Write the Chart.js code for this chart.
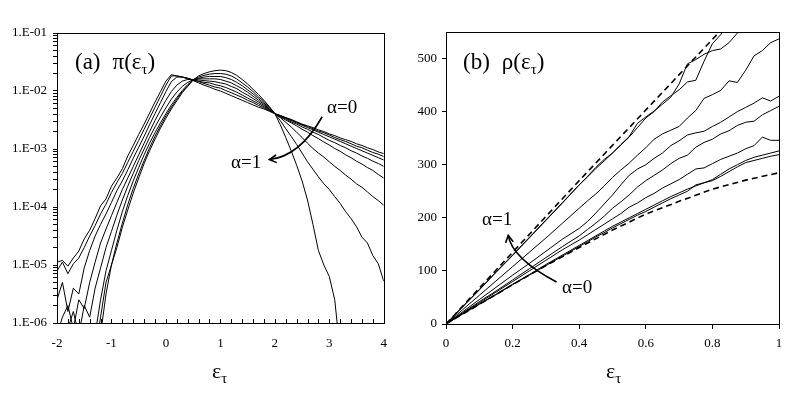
<!DOCTYPE html>
<html><head><meta charset="utf-8">
<script src="https://cdn.jsdelivr.net/npm/chart.js@4/dist/chart.umd.min.js"></script>
<style>
html,body{margin:0;padding:0;background:#fff;}
#wrap{position:relative;width:803px;height:393px;overflow:hidden;font-family:'Liberation Serif','Times New Roman',serif;color:#000;background:#fff;}
canvas{position:absolute;top:0;}
.t{position:absolute;white-space:nowrap;line-height:1;}
.s{position:relative;}
</style></head><body>
<div id="wrap">
<canvas id="ca" width="400" height="393" style="left:0px"></canvas>
<canvas id="cb" width="403" height="393" style="left:400px"></canvas>
<div class="t" style="left:75px;top:50px;font-size:23px">(a)<span style="margin-left:12px">π(ε</span><span class="s" style="font-size:15px;top:5px">τ</span>)</div>
<div class="t" style="left:463px;top:50px;font-size:23px">(b)<span style="margin-left:12px">ρ(ε</span><span class="s" style="font-size:15px;top:5px">τ</span>)</div>
<div class="t" style="left:212px;top:360px;font-size:22px">ε<span class="s" style="font-size:15px;top:5px">τ</span></div>
<div class="t" style="left:606px;top:360px;font-size:22px">ε<span class="s" style="font-size:15px;top:5px">τ</span></div>
<div class="t" style="left:327px;top:97px;font-size:19px">α=0</div>
<div class="t" style="left:231px;top:152px;font-size:19px">α=1</div>
<div class="t" style="left:482px;top:209px;font-size:19px">α=1</div>
<div class="t" style="left:562px;top:277px;font-size:19px">α=0</div>
</div>
<script>
// ---------- Panel (a): pi(eps) ----------
const piX = [-2,-1.9,-1.8,-1.7,-1.6,-1.5,-1.4,-1.3,-1.2,-1.1,-1,-0.9,-0.8,-0.7,-0.6,-0.5,-0.4,-0.3,-0.2,-0.1,0,0.1,0.2,0.3,0.4,0.5,0.6,0.7,0.8,0.9,1,1.1,1.2,1.3,1.4,1.5,1.6,1.7,1.8,1.9,2,2.1,2.2,2.3,2.4,2.5,2.6,2.7,2.8,2.9,3,3.1,3.2,3.3,3.4,3.5,3.6,3.7,3.8,3.9,4];
const pi0 = [1.12e-5,1.20e-5,9.55e-6,1.32e-5,1.74e-5,2.82e-5,3.98e-5,6.31e-5,1.05e-4,1.38e-4,2.29e-4,3.16e-4,4.57e-4,7.59e-4,1.15e-3,1.78e-3,2.69e-3,4.17e-3,6.46e-3,9.77e-3,1.48e-2,1.91e-2,1.82e-2,1.74e-2,1.62e-2,1.51e-2,1.38e-2,1.26e-2,1.17e-2,1.07e-2,1.00e-2,9.12e-3,8.32e-3,7.59e-3,6.92e-3,6.31e-3,5.75e-3,5.25e-3,4.90e-3,4.47e-3,4.07e-3,3.80e-3,3.47e-3,3.24e-3,2.95e-3,2.69e-3,2.51e-3,2.34e-3,2.14e-3,2.00e-3,1.82e-3,1.70e-3,1.55e-3,1.45e-3,1.35e-3,1.23e-3,1.15e-3,1.05e-3,9.77e-4,8.91e-4,8.32e-4];
const pi1 = [7.94e-6,1.12e-5,7.08e-6,1.05e-5,1.32e-5,2.00e-5,3.16e-5,4.79e-5,7.59e-5,1.12e-4,1.78e-4,2.63e-4,3.80e-4,5.89e-4,9.12e-4,1.41e-3,2.19e-3,3.39e-3,5.25e-3,8.13e-3,1.26e-2,1.82e-2,1.82e-2,1.74e-2,1.66e-2,1.55e-2,1.45e-2,1.35e-2,1.26e-2,1.17e-2,1.12e-2,1.02e-2,9.33e-3,8.51e-3,7.76e-3,6.92e-3,6.31e-3,5.62e-3,5.13e-3,4.57e-3,4.07e-3,3.72e-3,3.47e-3,3.16e-3,2.88e-3,2.63e-3,2.45e-3,2.24e-3,2.04e-3,1.91e-3,1.74e-3,1.58e-3,1.45e-3,1.35e-3,1.23e-3,1.12e-3,1.05e-3,9.55e-4,8.71e-4,8.13e-4,7.41e-4];
const pi2 = [2.51e-6,5.01e-6,1.58e-6,3.98e-6,3.16e-6,8.91e-6,1.78e-5,3.16e-5,5.01e-5,7.59e-5,1.20e-4,1.91e-4,2.82e-4,4.37e-4,6.92e-4,1.07e-3,1.66e-3,2.63e-3,4.07e-3,6.31e-3,9.77e-3,1.45e-2,1.74e-2,1.74e-2,1.66e-2,1.55e-2,1.48e-2,1.41e-2,1.38e-2,1.29e-2,1.23e-2,1.15e-2,1.05e-2,9.55e-3,8.51e-3,7.59e-3,6.76e-3,6.03e-3,5.37e-3,4.68e-3,4.07e-3,3.72e-3,3.39e-3,3.09e-3,2.82e-3,2.57e-3,2.34e-3,2.14e-3,1.95e-3,1.78e-3,1.62e-3,1.48e-3,1.35e-3,1.23e-3,1.12e-3,1.02e-3,9.33e-4,8.51e-4,7.76e-4,7.08e-4,6.46e-4];
const pi3 = [6.31e-7,1.26e-6,2.00e-6,7.94e-7,2.51e-6,1.78e-6,5.01e-6,1.12e-5,2.40e-5,4.17e-5,7.08e-5,1.20e-4,2.00e-4,3.16e-4,5.01e-4,7.94e-4,1.26e-3,2.00e-3,3.09e-3,4.68e-3,6.92e-3,9.77e-3,1.26e-2,1.48e-2,1.58e-2,1.58e-2,1.55e-2,1.51e-2,1.48e-2,1.45e-2,1.38e-2,1.32e-2,1.20e-2,1.10e-2,9.55e-3,8.51e-3,7.41e-3,6.46e-3,5.62e-3,4.79e-3,4.07e-3,3.63e-3,3.31e-3,2.95e-3,2.69e-3,2.40e-3,2.19e-3,1.95e-3,1.78e-3,1.58e-3,1.41e-3,1.29e-3,1.15e-3,1.05e-3,9.33e-4,8.51e-4,7.59e-4,6.92e-4,6.17e-4,5.62e-4,5.01e-4];
const pi4 = [5.01e-7,5.01e-7,7.94e-7,1.58e-6,6.31e-7,2.00e-6,1.26e-6,3.98e-6,8.91e-6,2.00e-5,3.80e-5,7.24e-5,1.32e-4,2.29e-4,3.80e-4,6.31e-4,1.00e-3,1.58e-3,2.40e-3,3.55e-3,5.13e-3,7.24e-3,9.55e-3,1.20e-2,1.41e-2,1.55e-2,1.62e-2,1.62e-2,1.62e-2,1.62e-2,1.58e-2,1.48e-2,1.38e-2,1.23e-2,1.10e-2,9.55e-3,8.13e-3,6.92e-3,5.89e-3,4.90e-3,4.07e-3,3.55e-3,3.16e-3,2.82e-3,2.51e-3,2.19e-3,1.95e-3,1.70e-3,1.51e-3,1.32e-3,1.17e-3,1.02e-3,9.12e-4,7.94e-4,7.08e-4,6.17e-4,5.50e-4,4.79e-4,4.27e-4,3.63e-4,3.16e-4];
const pi5 = [3.16e-7,3.16e-7,3.16e-7,3.16e-7,3.16e-7,3.16e-7,3.16e-7,6.31e-7,2.51e-6,7.94e-6,1.78e-5,3.98e-5,8.32e-5,1.58e-4,2.82e-4,4.79e-4,7.94e-4,1.26e-3,1.91e-3,2.82e-3,4.07e-3,5.75e-3,7.76e-3,1.02e-2,1.29e-2,1.55e-2,1.66e-2,1.74e-2,1.78e-2,1.78e-2,1.78e-2,1.70e-2,1.58e-2,1.41e-2,1.23e-2,1.05e-2,8.91e-3,7.41e-3,6.17e-3,5.13e-3,4.07e-3,3.47e-3,2.88e-3,2.40e-3,1.95e-3,1.58e-3,1.26e-3,1.02e-3,8.51e-4,7.24e-4,6.03e-4,5.01e-4,4.27e-4,3.55e-4,3.02e-4,2.51e-4,2.19e-4,1.82e-4,1.51e-4,1.29e-4,1.07e-4];
const pi6 = [3.16e-7,3.16e-7,3.16e-7,3.16e-7,3.16e-7,3.16e-7,3.16e-7,3.16e-7,1.26e-6,5.01e-6,1.00e-5,2.40e-5,5.25e-5,1.10e-4,2.09e-4,3.72e-4,6.31e-4,1.05e-3,1.66e-3,2.51e-3,3.72e-3,5.25e-3,7.24e-3,9.77e-3,1.23e-2,1.55e-2,1.74e-2,1.86e-2,1.95e-2,2.00e-2,2.00e-2,1.95e-2,1.82e-2,1.62e-2,1.38e-2,1.17e-2,9.77e-3,7.94e-3,6.61e-3,5.25e-3,4.07e-3,3.09e-3,2.24e-3,1.66e-3,1.20e-3,8.51e-4,6.03e-4,4.47e-4,3.31e-4,2.51e-4,2.00e-4,1.51e-4,1.15e-4,8.32e-5,6.31e-5,4.57e-5,3.02e-5,2.40e-5,1.45e-5,1.05e-5,5.25e-6];
const pi7 = [null,null,null,null,null,null,null,3.16e-7,6.31e-7,3.16e-6,1.00e-5,2.00e-5,4.47e-5,8.91e-5,1.74e-4,3.16e-4,5.62e-4,9.33e-4,1.48e-3,2.29e-3,3.39e-3,4.90e-3,6.76e-3,9.33e-3,1.20e-2,1.55e-2,1.82e-2,2.00e-2,2.14e-2,2.24e-2,2.29e-2,2.24e-2,2.09e-2,1.86e-2,1.58e-2,1.32e-2,1.07e-2,8.71e-3,6.92e-3,5.37e-3,4.07e-3,2.63e-3,1.58e-3,9.33e-4,5.25e-4,2.82e-4,1.32e-4,5.01e-5,1.78e-5,1.00e-5,6.31e-6,2.51e-6,3.16e-7,null,null,null,null,null,null,null,null];
const piSeries = [pi0, pi1, pi2, pi3, pi4, pi5, pi6, pi7];
const piTickLabels = ['1.E-06','1.E-05','1.E-04','1.E-03','1.E-02','1.E-01'];

// ---------- Panel (b): rho(eps) ----------
const rhoX = [0,0.05,0.1,0.15,0.2,0.25,0.3,0.35,0.4,0.425,0.45,0.475,0.5,0.525,0.55,0.575,0.6,0.625,0.65,0.675,0.7,0.725,0.75,0.775,0.8,0.825,0.85,0.875,0.9,0.925,0.95,0.975,1];
const rhoA = [0,32,64,97,129,162,195,228,262,277,293,307,322,337,352,370,388,400,418,430,441,456,459,495,528,545,575,null,null,null,null,null,null];
const rhoB = [0,33,65,98,130,163,196,229,262,278,295,310,322,338,353,378,390,401,414,427,452,490,498,508,515,518,530,548,null,null,null,null,null];
const rhoC = [0,27,54,81,108,135,162,190,218,232,245,260,276,290,303,318,332,348,358,365,372,388,402,425,432,440,458,455,478,505,515,530,537];
const rhoD = [0,23,46,69,92,114,137,160,180,193,209,226,243,262,280,292,300,312,322,336,345,356,360,363,372,380,390,400,408,416,426,420,429];
const rhoE = [0,21,42,62,83,104,125,146,166,178,190,203,218,230,243,258,270,280,290,302,312,318,333,342,348,358,364,374,380,382,394,402,410];
const rhoF = [0,20,40,60,80,100,120,140,158,168,178,188,198,208,220,228,238,246,256,264,272,282,292,294,302,310,316,322,330,336,352,346,346];
const rhoG = [0,19,38,56,75,93,112,130,148,157,166,175,184,192,200,208,216,224,232,240,247,254,260,266,272,282,292,300,308,314,318,322,326];
const rhoH = [0,19,37,55,74,92,110,128,146,155,164,172,181,189,197,205,212,220,228,236,243,250,262,266,270,278,287,296,304,308,312,316,319];
const rhoSeries = [rhoA, rhoB, rhoC, rhoD, rhoE, rhoF, rhoG, rhoH];
const upperX = [0, 0.4, 0.83];
const upperY = [0, 270, 556];
const lowerX = [0,0.1,0.2,0.3,0.4,0.5,0.6,0.7,0.8,0.9,1];
const lowerY = [0,37,74,110,144,177,207,231,254,271,285];
const rhoTickLabels = {0: '0', 0.2: '0.2', 0.4: '0.4', 0.6: '0.6', 0.8: '0.8', 1: '1'};

Chart.defaults.font.family = "'Liberation Serif','Times New Roman',serif";
Chart.defaults.font.size = 13;
Chart.defaults.color = '#000';

const framePlugin = {
  id: 'frame',
  afterDraw(c, args, o) {
    const {ctx, chartArea: a} = c;
    ctx.save();
    ctx.strokeStyle = '#000';
    ctx.lineWidth = 1;
    ctx.strokeRect(Math.round(a.left) + 0.5, Math.round(a.top) + 0.5, Math.round(a.right - a.left), Math.round(a.bottom - a.top));
    if (o && o.innerStep) {
      const xs = c.scales.x;
      ctx.beginPath();
      const n = Math.round((xs.max - xs.min) / o.innerStep);
      for (let i = 0; i <= n; i++) {
        const px = Math.round(xs.getPixelForValue(xs.min + i * o.innerStep)) + 0.5;
        ctx.moveTo(px, a.bottom);
        ctx.lineTo(px, a.bottom - 4);
      }
      ctx.stroke();
    }
    ctx.restore();
  }
};

const arrowPlugin = {
  id: 'arrow',
  afterDatasetsDraw(c, args, o) {
    if (!o || !o.pts) return;
    const xs = c.scales.x, ys = c.scales.y, ctx = c.ctx;
    const p = o.pts.map(q => [xs.getPixelForValue(q[0]), ys.getPixelForValue(q[1])]);
    ctx.save();
    ctx.strokeStyle = '#000';
    ctx.lineWidth = 1.6;
    ctx.beginPath();
    ctx.moveTo(p[0][0], p[0][1]);
    ctx.quadraticCurveTo(p[1][0], p[1][1], p[2][0], p[2][1]);
    ctx.stroke();
    const ang = Math.atan2(p[2][1] - p[1][1], p[2][0] - p[1][0]);
    const L = 8, w = 0.5;
    ctx.beginPath();
    ctx.moveTo(p[2][0] - L * Math.cos(ang - w), p[2][1] - L * Math.sin(ang - w));
    ctx.lineTo(p[2][0], p[2][1]);
    ctx.lineTo(p[2][0] - L * Math.cos(ang + w), p[2][1] - L * Math.sin(ang + w));
    ctx.stroke();
    ctx.restore();
  }
};

function lineDs(xs, ys, dashed) {
  return {
    data: xs.map((x, i) => ({x: x, y: ys[i]})),
    borderColor: '#000',
    borderWidth: dashed ? 1.6 : 1,
    borderDash: dashed ? [6, 4] : [],
    pointRadius: 0,
    fill: false,
    tension: 0
  };
}

// log ticks: decades plus 2..9 minor marks
const logTickVals = [];
for (let e = -6; e <= -2; e++) for (let m = 1; m <= 9; m++) logTickVals.push(m * Math.pow(10, e));
logTickVals.push(0.1);

new Chart(document.getElementById('ca'), {
  type: 'line',
  data: { datasets: piSeries.map(s => lineDs(piX, s, false)) },
  options: {
    responsive: false, animation: false, devicePixelRatio: 1,
    layout: { padding: { left: 0, top: 33, right: 13, bottom: 0 } },
    plugins: { legend: { display: false }, tooltip: { enabled: false },
      frame: { innerStep: 0.2 },
      arrow: { pts: [[2.87, 3.6e-3], [2.45, 7.4e-4], [1.90, 6.6e-4]] } },
    scales: {
      x: { type: 'linear', min: -2, max: 4,
        afterFit(s) { s.height = 70; },
        ticks: { stepSize: 1, padding: 13, maxRotation: 0 },
        grid: { drawOnChartArea: false, drawTicks: false, color: '#000' },
        border: { display: false } },
      y: { type: 'logarithmic', min: 1e-6, max: 1e-1,
        afterFit(s) { s.width = 57; },
        afterBuildTicks(s) { s.ticks = logTickVals.map(v => ({ value: v })); },
        ticks: { autoSkip: false, padding: 6,
          callback(v) { const e = Math.log10(v); const r = Math.round(e); return Math.abs(e - r) < 1e-6 ? piTickLabels[r + 6] : ''; } },
        grid: { drawOnChartArea: false, tickLength: 4, color: '#000' },
        border: { display: false } }
    }
  },
  plugins: [framePlugin, arrowPlugin]
});

new Chart(document.getElementById('cb'), {
  type: 'line',
  data: { datasets: rhoSeries.map(s => lineDs(rhoX, s, false))
    .concat([lineDs(upperX, upperY, true), lineDs(lowerX, lowerY, true)]) },
  options: {
    responsive: false, animation: false, devicePixelRatio: 1,
    layout: { padding: { left: 0, top: 32, right: 24, bottom: 0 } },
    plugins: { legend: { display: false }, tooltip: { enabled: false },
      frame: {},
      arrow: { pts: [[0.332, 79], [0.198, 124], [0.187, 167]] } },
    scales: {
      x: { type: 'linear', min: 0, max: 1,
        afterFit(s) { s.height = 69; },
        ticks: { stepSize: 0.2, padding: 7, maxRotation: 0,
          callback(v) { const k = Math.round(v * 10) / 10; return rhoTickLabels[k] !== undefined ? rhoTickLabels[k] : ''; } },
        grid: { drawOnChartArea: false, tickLength: 5, color: '#000' },
        border: { display: false } },
      y: { type: 'linear', min: 0, max: 550,
        afterFit(s) { s.width = 46; },
        ticks: { stepSize: 100, includeBounds: false, padding: 5 },
        grid: { drawOnChartArea: false, tickLength: 4, color: '#000' },
        border: { display: false } }
    }
  },
  plugins: [framePlugin, arrowPlugin]
});
</script>
</body></html>
